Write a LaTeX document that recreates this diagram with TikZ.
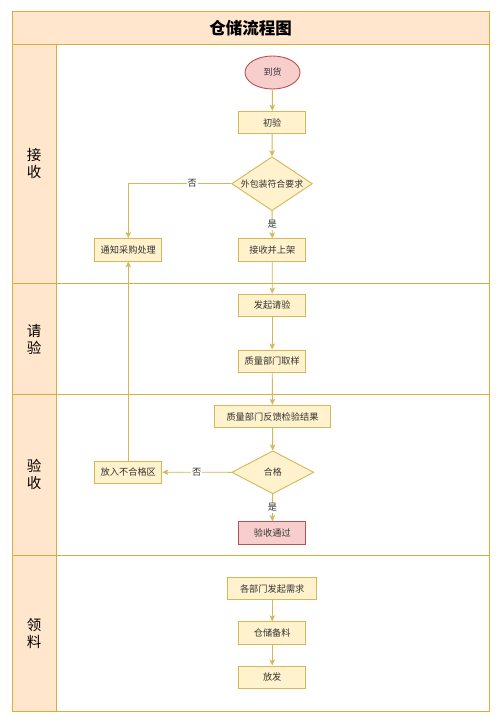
\documentclass[tikz,border=0pt]{standalone}
\usepackage{fontspec}
\setmainfont{Noto Sans CJK SC}
\usetikzlibrary{shapes.geometric,arrows.meta}
\definecolor{laneFill}{HTML}{FFE6CC}
\definecolor{laneLine}{HTML}{DCAD3A}
\definecolor{boxFill}{HTML}{FFF2CC}
\definecolor{boxLine}{HTML}{D6B656}
\definecolor{redFill}{HTML}{F8CECC}
\definecolor{redLine}{HTML}{B85450}
\definecolor{txt}{HTML}{333333}
\tikzset{
  box/.style={draw=boxLine, fill=boxFill, line width=0.9pt, minimum width=67pt, minimum height=22.5pt, inner sep=0pt, font=\fontsize{9.2}{10}\selectfont, text=txt},
  redbox/.style={box, draw=redLine, fill=redFill},
  startnode/.style={ellipse, draw=redLine, fill=redFill, line width=0.9pt, minimum width=55pt, minimum height=33pt, inner sep=0pt, font=\fontsize{9}{10}\selectfont, text=txt},
  decision/.style={diamond, draw=boxLine, fill=boxFill, line width=0.9pt, inner sep=0pt, font=\fontsize{8.9}{10}\selectfont, text=txt},
  arr/.style={draw=boxLine, line width=0.9pt, -{Stealth[length=6pt,width=5.5pt,inset=1.5pt]}},
  lbl/.style={fill=white, inner sep=1pt, font=\fontsize{9.2}{10}\selectfont, text=txt},
  lanetxt/.style={align=center, font=\fontsize{14.5}{17}\selectfont, text=black},
  frame/.style={draw=laneLine, line width=1pt}
}
\begin{document}
\begin{tikzpicture}[x=1pt,y=-1pt]
\useasboundingbox (0,0) rectangle (500,722);
% frame and lanes
\fill[white] (12,12) rectangle (489,711);
\fill[laneFill] (12,12) rectangle (489,45);
\fill[laneFill] (12,45) rectangle (56,711);
\draw[frame] (12,45) -- (489,45);
\draw[frame] (12,283) -- (489,283);
\draw[frame] (12,394) -- (489,394);
\draw[frame] (12,555) -- (489,555);
\draw[frame] (56,45) -- (56,711);
\draw[frame] (12,12) rectangle (489,711);
\node[font=\fontsize{16.5}{19}\selectfont\bfseries, text=black] (title) at (250.5,28.5) {仓储流程图};
\node[lanetxt] (lane1) at (34,164) {接\\收};
\node[lanetxt] (lane2) at (34,339) {请\\验};
\node[lanetxt] (lane3) at (34,474.5) {验\\收};
\node[lanetxt] (lane4) at (34,633) {领\\料};
% nodes
\node[startnode] (arrive) at (272.5,72.5) {到货};
\node[box] (init) at (272.2,122.5) {初验};
\node[decision, minimum width=80.6pt, minimum height=54pt, aspect=1.5] (d1) at (272,183.7) {外包装符合要求};
\node[box] (notify) at (128.3,249.7) {通知采购处理};
\node[box] (recv) at (272.3,250) {接收并上架};
\node[box] (req) at (272.2,305.3) {发起请验};
\node[box] (sample) at (272.2,361.2) {质量部门取样};
\node[box, minimum width=116.4pt] (feedback) at (272.5,416.5) {质量部门反馈检验结果};
\node[decision, minimum width=82pt, minimum height=43pt, aspect=1.9] (d2) at (272.8,472.3) {合格};
\node[box] (reject) at (128.3,472.2) {放入不合格区};
\node[redbox] (pass) at (272.3,532.8) {验收通过};
\node[box, minimum width=89pt] (demand) at (272.2,588.5) {各部门发起需求};
\node[box] (prep) at (272.2,633) {仓储备料};
\node[box] (issue) at (272.2,677.2) {放发};
% connectors
\coordinate (c1) at (d1.west -| notify.north);
\draw[arr] (arrive) -- (init);
\draw[arr] (init) -- (d1);
\draw[arr] (d1) -- node[lbl, pos=0.5] {是} (recv);
\draw[arr] (d1.west) -- node[lbl, pos=0.38] {否} (c1) -- (notify.north);
\draw[arr] (recv) -- (req);
\draw[arr] (req) -- (sample);
\draw[arr] (sample) -- (feedback);
\draw[arr] (feedback) -- (d2);
\draw[arr] (d2.west) -- node[lbl, pos=0.5] {否} (reject.east);
\draw[arr] (d2) -- node[lbl, pos=0.5] {是} (pass);
\draw[arr] (reject.north) -- (notify.south);
\draw[arr] (demand) -- (prep);
\draw[arr] (prep) -- (issue);
\end{tikzpicture}
\end{document}
